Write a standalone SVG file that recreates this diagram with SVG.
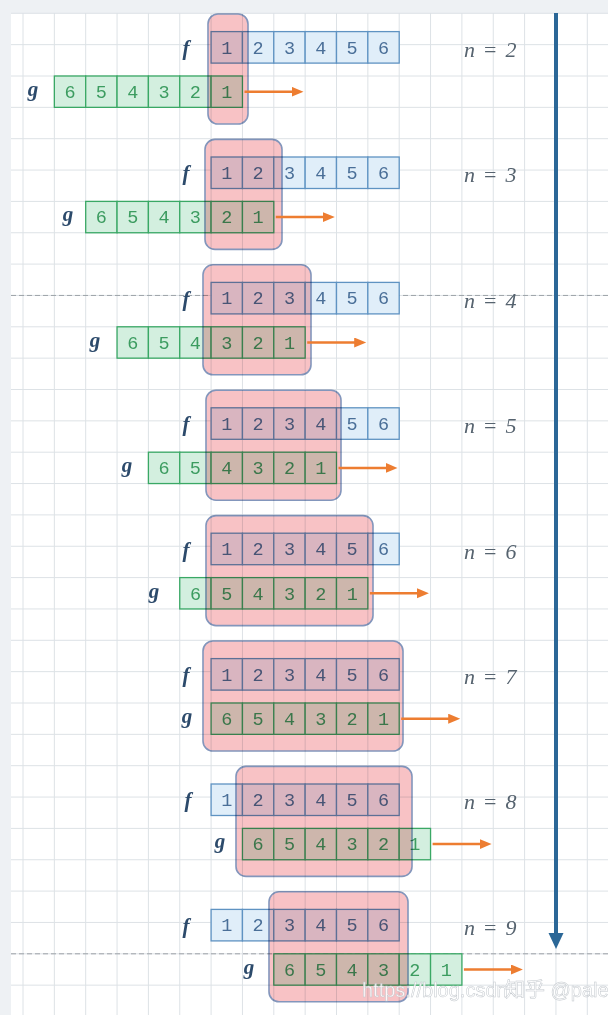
<svg xmlns="http://www.w3.org/2000/svg" xmlns:xlink="http://www.w3.org/1999/xlink" width="608" height="1015" viewBox="0 0 608 1015">
<style>
.grid line{stroke:#dde2e6;stroke-width:1}
.dash{stroke:#9ea3a8;stroke-width:1;stroke-dasharray:5 3}
.fc{fill:#e0eef9;stroke:#5f93c2;stroke-width:1.3}
.gc{fill:#d3efdf;stroke:#3aa865;stroke-width:1.3}
.ft{font-family:"Liberation Mono","DejaVu Sans Mono",monospace;font-size:18.5px;fill:#4a6f98;text-anchor:middle}
.gt{font-family:"Liberation Mono","DejaVu Sans Mono",monospace;font-size:18.5px;fill:#3c9c60;text-anchor:middle}
.hl{fill:#f8c2c5;stroke:#8396bc;stroke-width:1.6;mix-blend-mode:multiply}
.lab{font-family:"Liberation Serif","DejaVu Serif",serif;font-size:21px;font-weight:bold;font-style:italic;fill:#2c4a6b;text-anchor:middle}
.nl{font-family:"Liberation Serif","DejaVu Serif",serif;font-size:22px;fill:#56636f}
.nl .i{font-style:italic}
.oa{stroke:#ed7d31;stroke-width:2.5;fill:none}
.wm{font-family:"Liberation Sans","Noto Sans CJK SC",sans-serif;font-size:20px;fill:#ffffff;fill-opacity:0.85;stroke:#c3c8cd;stroke-width:0.5}
</style>
<defs>
<marker id="oh" markerUnits="userSpaceOnUse" markerWidth="13" markerHeight="11" refX="3" refY="5" orient="auto" viewBox="0 0 13 11">
<path d="M0,0 L12,5 L0,10 z" fill="#ed7d31"/>
</marker>
<g id="frow">
<rect class="fc" x="0" y="0" width="31.35" height="31.5"/>
<rect class="fc" x="31.35" y="0" width="31.35" height="31.5"/>
<rect class="fc" x="62.7" y="0" width="31.35" height="31.5"/>
<rect class="fc" x="94.05" y="0" width="31.35" height="31.5"/>
<rect class="fc" x="125.4" y="0" width="31.35" height="31.5"/>
<rect class="fc" x="156.75" y="0" width="31.35" height="31.5"/>
<text class="ft" x="15.68" y="22">1</text>
<text class="ft" x="47.03" y="22">2</text>
<text class="ft" x="78.38" y="22">3</text>
<text class="ft" x="109.73" y="22">4</text>
<text class="ft" x="141.08" y="22">5</text>
<text class="ft" x="172.43" y="22">6</text>
</g>
<g id="grow">
<rect class="gc" x="0" y="0" width="31.35" height="31.35"/>
<rect class="gc" x="31.35" y="0" width="31.35" height="31.35"/>
<rect class="gc" x="62.7" y="0" width="31.35" height="31.35"/>
<rect class="gc" x="94.05" y="0" width="31.35" height="31.35"/>
<rect class="gc" x="125.4" y="0" width="31.35" height="31.35"/>
<rect class="gc" x="156.75" y="0" width="31.35" height="31.35"/>
<text class="gt" x="15.68" y="22">6</text>
<text class="gt" x="47.03" y="22">5</text>
<text class="gt" x="78.38" y="22">4</text>
<text class="gt" x="109.73" y="22">3</text>
<text class="gt" x="141.08" y="22">2</text>
<text class="gt" x="172.43" y="22">1</text>
</g>
</defs>

<g id="background">
<rect x="0" y="0" width="608" height="1015" fill="#eef1f4"/>
<rect x="11" y="13" width="597" height="1002" fill="#ffffff"/>
<g class="grid">
<line x1="23" y1="13" x2="23" y2="1015"/>
<line x1="54.35" y1="13" x2="54.35" y2="1015"/>
<line x1="85.7" y1="13" x2="85.7" y2="1015"/>
<line x1="117.05" y1="13" x2="117.05" y2="1015"/>
<line x1="148.4" y1="13" x2="148.4" y2="1015"/>
<line x1="179.75" y1="13" x2="179.75" y2="1015"/>
<line x1="211.1" y1="13" x2="211.1" y2="1015"/>
<line x1="242.45" y1="13" x2="242.45" y2="1015"/>
<line x1="273.8" y1="13" x2="273.8" y2="1015"/>
<line x1="305.15" y1="13" x2="305.15" y2="1015"/>
<line x1="336.5" y1="13" x2="336.5" y2="1015"/>
<line x1="367.85" y1="13" x2="367.85" y2="1015"/>
<line x1="399.2" y1="13" x2="399.2" y2="1015"/>
<line x1="430.55" y1="13" x2="430.55" y2="1015"/>
<line x1="461.9" y1="13" x2="461.9" y2="1015"/>
<line x1="493.25" y1="13" x2="493.25" y2="1015"/>
<line x1="524.6" y1="13" x2="524.6" y2="1015"/>
<line x1="555.95" y1="13" x2="555.95" y2="1015"/>
<line x1="587.3" y1="13" x2="587.3" y2="1015"/>
<line x1="11" y1="13.3" x2="608" y2="13.3"/>
<line x1="11" y1="44.65" x2="608" y2="44.65"/>
<line x1="11" y1="76" x2="608" y2="76"/>
<line x1="11" y1="107.35" x2="608" y2="107.35"/>
<line x1="11" y1="138.7" x2="608" y2="138.7"/>
<line x1="11" y1="170.05" x2="608" y2="170.05"/>
<line x1="11" y1="201.4" x2="608" y2="201.4"/>
<line x1="11" y1="232.75" x2="608" y2="232.75"/>
<line x1="11" y1="264.1" x2="608" y2="264.1"/>
<line x1="11" y1="295.45" x2="608" y2="295.45"/>
<line x1="11" y1="326.8" x2="608" y2="326.8"/>
<line x1="11" y1="358.15" x2="608" y2="358.15"/>
<line x1="11" y1="389.5" x2="608" y2="389.5"/>
<line x1="11" y1="420.85" x2="608" y2="420.85"/>
<line x1="11" y1="452.2" x2="608" y2="452.2"/>
<line x1="11" y1="483.55" x2="608" y2="483.55"/>
<line x1="11" y1="514.9" x2="608" y2="514.9"/>
<line x1="11" y1="546.25" x2="608" y2="546.25"/>
<line x1="11" y1="577.6" x2="608" y2="577.6"/>
<line x1="11" y1="608.95" x2="608" y2="608.95"/>
<line x1="11" y1="640.3" x2="608" y2="640.3"/>
<line x1="11" y1="671.65" x2="608" y2="671.65"/>
<line x1="11" y1="703" x2="608" y2="703"/>
<line x1="11" y1="734.35" x2="608" y2="734.35"/>
<line x1="11" y1="765.7" x2="608" y2="765.7"/>
<line x1="11" y1="797.05" x2="608" y2="797.05"/>
<line x1="11" y1="828.4" x2="608" y2="828.4"/>
<line x1="11" y1="859.75" x2="608" y2="859.75"/>
<line x1="11" y1="891.1" x2="608" y2="891.1"/>
<line x1="11" y1="922.45" x2="608" y2="922.45"/>
<line x1="11" y1="953.8" x2="608" y2="953.8"/>
<line x1="11" y1="985.15" x2="608" y2="985.15"/>
</g>
<line class="dash" x1="11" y1="295.45" x2="608" y2="295.45"/>
<line class="dash" x1="11" y1="953.8" x2="608" y2="953.8"/>
</g>

<g id="step-n2">
<use xlink:href="#frow" x="211.1" y="31.6"/>
<use xlink:href="#grow" x="54.35" y="76"/>
<rect class="hl" x="208" y="14" width="40" height="110" rx="10"/>
<text class="lab" x="186" y="55">f</text>
<text class="lab" x="33" y="96">g</text>
<text class="nl" x="464" y="57"><tspan class="i">n</tspan><tspan dx="9">=</tspan><tspan class="i" dx="9">2</tspan></text>
</g>
<g id="step-n3" transform="translate(0,125.4)">
<use xlink:href="#frow" x="211.1" y="31.6"/>
<use xlink:href="#grow" x="85.7" y="76"/>
<rect class="hl" x="205" y="14" width="77" height="110" rx="10"/>
<text class="lab" x="186" y="55">f</text>
<text class="lab" x="68" y="96">g</text>
<text class="nl" x="464" y="57"><tspan class="i">n</tspan><tspan dx="9">=</tspan><tspan class="i" dx="9">3</tspan></text>
</g>
<g id="step-n4" transform="translate(0,250.8)">
<use xlink:href="#frow" x="211.1" y="31.6"/>
<use xlink:href="#grow" x="117.05" y="76"/>
<rect class="hl" x="203" y="14" width="108" height="110" rx="10"/>
<text class="lab" x="186" y="55">f</text>
<text class="lab" x="95" y="96">g</text>
<text class="nl" x="464" y="57"><tspan class="i">n</tspan><tspan dx="9">=</tspan><tspan class="i" dx="9">4</tspan></text>
</g>
<g id="step-n5" transform="translate(0,376.2)">
<use xlink:href="#frow" x="211.1" y="31.6"/>
<use xlink:href="#grow" x="148.4" y="76"/>
<rect class="hl" x="206" y="14" width="135" height="110" rx="10"/>
<text class="lab" x="186" y="55">f</text>
<text class="lab" x="127" y="96">g</text>
<text class="nl" x="464" y="57"><tspan class="i">n</tspan><tspan dx="9">=</tspan><tspan class="i" dx="9">5</tspan></text>
</g>
<g id="step-n6" transform="translate(0,501.6)">
<use xlink:href="#frow" x="211.1" y="31.6"/>
<use xlink:href="#grow" x="179.75" y="76"/>
<rect class="hl" x="206" y="14" width="167" height="110" rx="10"/>
<text class="lab" x="186" y="55">f</text>
<text class="lab" x="154" y="96">g</text>
<text class="nl" x="464" y="57"><tspan class="i">n</tspan><tspan dx="9">=</tspan><tspan class="i" dx="9">6</tspan></text>
</g>
<g id="step-n7" transform="translate(0,627)">
<use xlink:href="#frow" x="211.1" y="31.6"/>
<use xlink:href="#grow" x="211.1" y="76"/>
<rect class="hl" x="203" y="14" width="200" height="110" rx="10"/>
<text class="lab" x="186" y="55">f</text>
<text class="lab" x="187" y="96">g</text>
<text class="nl" x="464" y="57"><tspan class="i">n</tspan><tspan dx="9">=</tspan><tspan class="i" dx="9">7</tspan></text>
</g>
<g id="step-n8" transform="translate(0,752.4)">
<use xlink:href="#frow" x="211.1" y="31.6"/>
<use xlink:href="#grow" x="242.45" y="76"/>
<rect class="hl" x="236" y="14" width="176" height="110" rx="10"/>
<text class="lab" x="188" y="55">f</text>
<text class="lab" x="220" y="96">g</text>
<text class="nl" x="464" y="57"><tspan class="i">n</tspan><tspan dx="9">=</tspan><tspan class="i" dx="9">8</tspan></text>
</g>
<g id="step-n9" transform="translate(0,877.8)">
<use xlink:href="#frow" x="211.1" y="31.6"/>
<use xlink:href="#grow" x="273.8" y="76"/>
<rect class="hl" x="269" y="14" width="139" height="110" rx="10"/>
<text class="lab" x="186" y="55">f</text>
<text class="lab" x="249" y="96">g</text>
<text class="nl" x="464" y="57"><tspan class="i">n</tspan><tspan dx="9">=</tspan><tspan class="i" dx="9">9</tspan></text>
</g>

<g id="connectors">
<line class="oa" x1="244.5" y1="91.7" x2="294.5" y2="91.7" marker-end="url(#oh)"/>
<line class="oa" x1="275.8" y1="217.1" x2="325.8" y2="217.1" marker-end="url(#oh)"/>
<line class="oa" x1="307.2" y1="342.5" x2="357.2" y2="342.5" marker-end="url(#oh)"/>
<line class="oa" x1="338.5" y1="467.9" x2="388.5" y2="467.9" marker-end="url(#oh)"/>
<line class="oa" x1="369.9" y1="593.3" x2="419.9" y2="593.3" marker-end="url(#oh)"/>
<line class="oa" x1="401.2" y1="718.7" x2="451.2" y2="718.7" marker-end="url(#oh)"/>
<line class="oa" x1="432.6" y1="844.1" x2="482.6" y2="844.1" marker-end="url(#oh)"/>
<line class="oa" x1="463.9" y1="969.5" x2="513.9" y2="969.5" marker-end="url(#oh)"/>
<line x1="556" y1="13" x2="556" y2="936" stroke="#2b6797" stroke-width="4"/>
<path d="M548.5,933 L563.5,933 L556,949 z" fill="#2b6797"/>
</g>

<g id="watermark">
<text class="wm" x="362" y="997">https://blog.csdn</text>
<text class="wm" x="505" y="997">知乎 @pale</text>
</g>
</svg>
